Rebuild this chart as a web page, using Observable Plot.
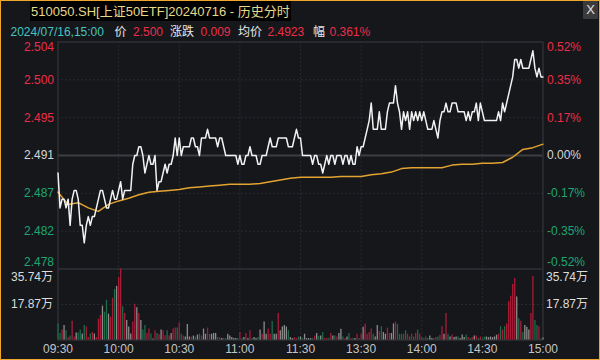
<!DOCTYPE html>
<html><head><meta charset="utf-8">
<script src="https://cdn.jsdelivr.net/npm/d3@7"></script>
<script src="https://cdn.jsdelivr.net/npm/@observablehq/plot@0.6"></script>
<style>
html,body{margin:0;padding:0;background:#15171b;}
#wrap{position:relative;width:600px;height:360px;overflow:hidden;background:#15171b;font-family:"Liberation Sans","Noto Sans CJK SC",sans-serif;}
#border{position:absolute;left:0;top:0;width:600px;height:360px;box-sizing:border-box;border:1.5px solid #f0a52c;pointer-events:none;}
#title{position:absolute;left:30px;top:1px;height:18px;padding:2px 1px 0 1px;background:#000;color:#e6d98a;font-size:13px;line-height:18px;white-space:nowrap;}
#close{position:absolute;left:583px;top:1px;width:15px;height:18px;background:#3b3b3b;color:#e0e0e0;font-size:13px;line-height:18px;text-align:center;}
.info{position:absolute;top:25px;font-size:12px;line-height:14px;white-space:nowrap;}
.plot{position:absolute;left:0;}
</style></head>
<body><div id="wrap">
<div id="title"></div><div id="close">X</div>
<div id="info"></div>
<div id="pricePlot" class="plot" style="top:36px"></div>
<div id="volPlot" class="plot" style="top:268px"></div>
<div id="border"></div>
</div>
<script>
// ---- data ----
const titleText = "510050.SH[上证50ETF]20240716 - 历史分时";
const infoDate = "2024/07/16,15:00";
const infoLabels = ["价", "涨跌", "均价", "幅"];
const infoValues = ["2.500", "0.009", "2.4923", "0.361%"];
const prevClose = 2.491;
const priceTicks = [2.504, 2.49967, 2.49533, 2.491, 2.48667, 2.48233, 2.478];
const leftLabels = ["2.504", "2.500", "2.495", "2.491", "2.487", "2.482", "2.478"];
const rightLabels = ["0.52%", "0.35%", "0.17%", "0.00%", "-0.17%", "-0.35%", "-0.52%"];
const volTicks = [35.74, 17.87];
const volLabels = ["35.74万", "17.87万"];
const timeTickIdx = [0, 30, 60, 90, 120, 150, 180, 210, 240];
const timeLabels = ["09:30", "10:00", "10:30", "11:00", "11:30", "13:30", "14:00", "14:30", "15:00"];
// minute prices, 09:30 .. 11:30, 13:01 .. 15:00
const price = [
2.489,2.485,2.486,2.486,2.485,2.486,2.483,2.486,2.487,2.487,
2.486,2.483,2.483,2.481,2.483,2.484,2.483,2.484,2.484,2.485,
2.486,2.487,2.487,2.486,2.485,2.485,2.486,2.487,2.486,2.486,
2.487,2.488,2.486,2.487,2.487,2.487,2.487,2.490,2.491,2.491,
2.492,2.492,2.491,2.489,2.490,2.491,2.490,2.490,2.491,2.487,
2.488,2.488,2.489,2.490,2.489,2.490,2.490,2.491,2.493,2.491,
2.493,2.491,2.492,2.492,2.492,2.492,2.493,2.493,2.492,2.492,
2.491,2.493,2.493,2.493,2.494,2.493,2.493,2.493,2.493,2.492,
2.493,2.493,2.492,2.491,2.491,2.491,2.491,2.491,2.491,2.490,
2.491,2.490,2.490,2.491,2.491,2.492,2.491,2.491,2.491,2.490,
2.490,2.491,2.491,2.491,2.492,2.493,2.492,2.492,2.492,2.493,
2.493,2.493,2.493,2.493,2.492,2.492,2.492,2.493,2.494,2.493,
2.493,2.491,2.491,2.491,2.491,2.491,2.490,2.491,2.491,2.490,
2.490,2.489,2.490,2.491,2.490,2.491,2.491,2.490,2.491,2.491,
2.491,2.490,2.491,2.491,2.490,2.491,2.490,2.490,2.492,2.491,
2.492,2.492,2.493,2.494,2.495,2.497,2.494,2.494,2.494,2.496,
2.494,2.494,2.494,2.496,2.497,2.497,2.497,2.499,2.497,2.496,
2.494,2.496,2.495,2.496,2.494,2.496,2.495,2.496,2.495,2.496,
2.495,2.496,2.495,2.494,2.494,2.494,2.495,2.494,2.493,2.495,
2.496,2.496,2.497,2.496,2.496,2.497,2.497,2.497,2.496,2.496,
2.496,2.496,2.495,2.496,2.495,2.496,2.496,2.497,2.495,2.497,
2.496,2.495,2.495,2.495,2.495,2.495,2.495,2.495,2.496,2.495,
2.497,2.496,2.497,2.498,2.499,2.500,2.502,2.502,2.501,2.502,
2.501,2.501,2.501,2.501,2.502,2.503,2.501,2.500,2.501,2.500,
2.500];
// average price read every 5 minutes
const avgIdx = [0,5,10,15,20,25,30,35,40,45,50,55,60,65,70,75,80,85,90,95,100,105,110,115,120,
  125,130,135,140,145,150,155,160,165,170,175,180,185,190,195,200,205,210,215,220,225,230,235,240];
const avgPrice = [2.4868,2.4854,2.4856,2.4850,2.4846,2.4854,2.4858,2.4861,2.4865,2.4868,2.4869,2.4870,
  2.4871,2.4873,2.4874,2.4875,2.4876,2.4877,2.4877,2.4877,2.4878,2.4880,2.4882,2.4884,2.4885,
  2.4885,2.4885,2.4885,2.4886,2.4886,2.4886,2.4888,2.4889,2.4891,2.4895,2.4896,2.4896,2.4896,
  2.4896,2.4899,2.4900,2.4900,2.4901,2.4901,2.4902,2.4908,2.4917,2.4919,2.4923];
// minute volume, 万
const volume = [
8.1,3.3,5.0,7.3,4.7,1.2,2.0,9.5,1.5,3.5,
3.5,5.0,3.0,7.3,6.5,1.2,3.0,3.8,3.0,1.2,
10.5,12.4,17.0,14.0,20.0,13.0,11.5,21.0,25.4,27.0,
31.4,35.74,16.8,13.3,9.8,6.5,3.0,9.0,18.0,16.2,
13.3,9.8,5.0,7.3,3.3,5.5,3.0,0.5,4.7,3.3,
2.6,5.0,4.7,2.2,4.7,2.2,3.3,5.5,6.0,6.0,
8.5,2.9,2.0,1.5,7.8,1.5,1.5,2.0,1.5,2.5,
2.9,2.0,5.5,2.9,6.0,2.9,2.9,3.3,3.3,1.2,
1.2,0.7,0.7,0.7,2.9,2.0,1.2,0.7,0.7,0.7,
3.8,0.7,1.2,3.3,0.7,4.7,0.7,1.2,0.7,1.2,
5.0,2.9,9.0,2.9,5.5,2.9,9.3,2.9,2.9,13.3,
4.7,6.5,7.3,6.5,4.7,1.2,0.7,1.2,0.7,1.5,
1.5,0.7,2.9,0.7,0.7,0.7,0.7,2.0,3.3,1.9,
2.0,3.8,0.7,0.7,0.7,3.3,2.0,2.0,1.5,3.3,
5.4,1.5,0.7,1.5,3.3,0.7,0.7,0.7,2.9,0.7,
2.9,6.4,8.1,2.9,3.8,5.5,2.9,1.5,7.3,4.3,
6.7,3.8,2.9,6.0,3.3,3.3,8.1,9.0,7.8,2.9,
2.9,2.9,4.7,2.9,1.5,2.9,1.5,3.3,5.0,2.9,
1.2,0.7,1.5,0.7,2.0,0.7,0.7,1.2,1.5,2.4,
6.7,2.9,13.3,2.9,1.5,2.5,1.2,1.5,1.5,0.7,
2.5,1.2,2.5,1.2,0.7,1.2,2.0,2.0,0.7,1.5,
0.7,1.5,1.5,1.2,1.5,1.2,1.5,2.4,2.9,6.7,
5.0,6.7,8.1,19.3,22.0,28.0,31.0,21.6,10.7,9.5,
3.8,7.3,6.4,5.0,13.3,32.0,9.8,7.3,6.7,0.5,
1.0];

// ---- styling ----
const RED = "#ee2d48", GREEN = "#1fa673", NEUTRAL = "#d6d6d6", TEAL = "#47c3c0";
const GRID = "#3a3d44", FRAME = "#2f3137";
const FONT = '"Liberation Sans","Noto Sans CJK SC",sans-serif';
const tickColor = v => v > prevClose + 1e-6 ? RED : v < prevClose - 1e-6 ? GREEN : NEUTRAL;

document.getElementById("title").textContent = titleText;
const infoEl = document.getElementById("info");
const infoParts = [[infoDate, TEAL]];
infoLabels.forEach((l, k) => { infoParts.push([l, "#e8e8e8"]); infoParts.push([infoValues[k], RED]); });
const infoLeft = [10.5, 114.5, 133, 170, 200.5, 238, 267.5, 313, 329.5];
infoParts.forEach(([t, c], k) => {
  const s = document.createElement("span");
  s.className = "info"; s.textContent = t; s.style.color = c; s.style.left = infoLeft[k] + "px";
  infoEl.appendChild(s);
});

const yTicks = priceTicks.map((v, k) => ({v, left: leftLabels[k], right: rightLabels[k], k}));
const midTicks = yTicks.filter(d => d.k > 0 && d.k < 6);
const topTicks = yTicks.filter(d => d.k === 0), botTicks = yTicks.filter(d => d.k === 6);
const dotted = priceTicks.filter((v, k) => k > 0 && k < 6 && k !== 3);
const gridIdx = timeTickIdx.slice(1, -1);

const labelMarks = (data, dy) => [
  Plot.text(data, {y: "v", text: "left", frameAnchor: "left", textAnchor: "end", dx: -4, dy, fill: d => tickColor(d.v), fontSize: 12}),
  Plot.text(data, {y: "v", text: "right", frameAnchor: "right", textAnchor: "start", dx: 4, dy, fill: d => tickColor(d.v), fontSize: 12})
];

const pricePlot = Plot.plot({
  width: 600, height: 236,
  marginLeft: 57.5, marginRight: 57.5, marginTop: 5.5, marginBottom: 3.5,
  x: {domain: [0, 240], axis: null},
  y: {domain: [2.478, 2.504], axis: null},
  color: {type: "identity"},
  style: {background: "transparent", fontFamily: FONT, overflow: "visible"},
  marks: [
    Plot.ruleY(dotted, {stroke: GRID, strokeDasharray: "1,3"}),
    Plot.ruleX(gridIdx, {stroke: GRID, strokeDasharray: "1,3"}),
    Plot.ruleY([priceTicks[0], priceTicks[6]], {stroke: FRAME, strokeWidth: 1.5}),
    Plot.ruleY([prevClose], {stroke: "#3d3e43", strokeWidth: 2}),
    Plot.ruleX([0, 240], {stroke: FRAME, strokeWidth: 1.5}),
    Plot.line(avgPrice, {x: (d, i) => avgIdx[i], y: d => d, stroke: "#e3a331", strokeWidth: 1.5}),
    Plot.line(price, {x: (d, i) => i, y: d => d, stroke: "#f2f2f2", strokeWidth: 1.5}),
    ...labelMarks(midTicks, 0),
    ...labelMarks(topTicks, 5.5),
    ...labelMarks(botTicks, -7)
  ]
});
document.getElementById("pricePlot").appendChild(pricePlot);

const barColor = price.map((p, i) => {
  const d = p - (i ? price[i - 1] : prevClose);
  return d > 1e-6 ? "#a81c38" : d < -1e-6 ? "#1d6b49" : "#8c8c8c";
});

const volPlot = Plot.plot({
  width: 600, height: 92,
  marginLeft: 57.5, marginRight: 57.5, marginTop: 0.5, marginBottom: 20.5,
  x: {domain: [0, 240]},
  y: {domain: [0, 35.74], axis: null},
  color: {type: "identity"},
  style: {background: "transparent", fontFamily: FONT, overflow: "visible"},
  marks: [
    Plot.ruleY([volTicks[1]], {stroke: GRID, strokeDasharray: "1,3"}),
    Plot.ruleX(gridIdx, {stroke: GRID, strokeDasharray: "1,3"}),
    Plot.ruleY([0], {stroke: FRAME, strokeWidth: 1.5}),
    Plot.ruleX([0, 240], {stroke: FRAME, strokeWidth: 1.5}),
    Plot.ruleX(volume, {x: (d, i) => i, y1: 0, y2: d => d, stroke: (d, i) => barColor[i], strokeWidth: 1.3}),
    Plot.text([volTicks[0]], {y: d => d, text: () => volLabels[0], frameAnchor: "left", textAnchor: "end", dx: -5, dy: 8, fill: "#dcdcdc", fontSize: 12}),
    Plot.text([volTicks[1]], {y: d => d, text: () => volLabels[1], frameAnchor: "left", textAnchor: "end", dx: -5, fill: "#dcdcdc", fontSize: 12}),
    Plot.text([volTicks[0]], {y: d => d, text: () => volLabels[0], frameAnchor: "right", textAnchor: "start", dx: 3, dy: 8, fill: "#dcdcdc", fontSize: 12}),
    Plot.text([volTicks[1]], {y: d => d, text: () => volLabels[1], frameAnchor: "right", textAnchor: "start", dx: 3, fill: "#dcdcdc", fontSize: 12}),
    Plot.axisX({ticks: timeTickIdx, tickFormat: d => timeLabels[timeTickIdx.indexOf(d)], tickSize: 0, tickPadding: 4, fill: "#c4c4c4", fontSize: 12, label: null})
  ]
});
document.getElementById("volPlot").appendChild(volPlot);
</script>
</body></html>
